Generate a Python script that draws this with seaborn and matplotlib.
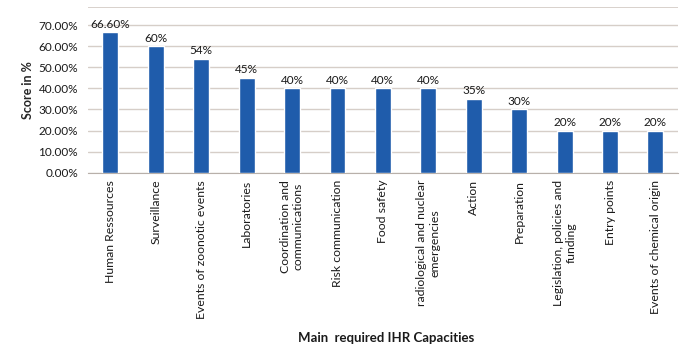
import pandas as pd
import numpy as np
import seaborn as sns
import matplotlib.pyplot as plt
from matplotlib.ticker import PercentFormatter

# data
capacities = ["Human Ressources", "Surveillance", "Events of zoonotic events",
              "Laboratories", "Coordination and\ncommunications", "Risk communication",
              "Food safety", "radiological and nuclear\nemergencies", "Action",
              "Preparation", "Legislation, policies and\nfunding", "Entry points",
              "Events of chemical origin"]
scores = [0.666, 0.60, 0.54, 0.45, 0.40, 0.40, 0.40, 0.40, 0.35, 0.30, 0.20, 0.20, 0.20]
bar_labels = ["66.60%", "60%", "54%", "45%", "40%", "40%", "40%", "40%",
              "35%", "30%", "20%", "20%", "20%"]

df = pd.DataFrame({"capacity": capacities, "score": scores})

sns.set_style("white")
plt.rcParams['font.family'] = ['Lato', 'DejaVu Sans']

fig = plt.figure(figsize=(6.85, 3.47), dpi=100)
ax = fig.add_axes([0.128, 0.502, 0.862, 0.478])

sns.barplot(data=df, x="capacity", y="score", color="#1f5cab", width=0.35,
            saturation=1, ax=ax, zorder=3)

ax.set_xlim(-0.5, len(capacities) - 0.5)
ax.set_ylim(0, 0.786)
ax.set_yticks(np.arange(0, 0.71, 0.1))
ax.yaxis.set_major_formatter(PercentFormatter(1.0, decimals=2))
ax.grid(axis="y", color="#d6cec8", linewidth=1.0, zorder=0)
ax.axhline(0.786, color="#d6cec8", linewidth=1.3, zorder=0)

for s in ["left", "right", "top"]:
    ax.spines[s].set_visible(False)
ax.spines["bottom"].set_color("#b8b0aa")

for i, lab in enumerate(bar_labels):
    ax.text(i, scores[i] + 0.012, lab, ha="center", va="bottom", fontsize=8.5,
            color="#1a1a1a")

ax.set_xticks(range(len(capacities)))
ax.set_xticklabels(capacities, rotation=90, ha="center", va="top",
                   multialignment="center", fontsize=8.8, color="#1a1a1a")
ax.tick_params(axis="y", labelsize=8.5, colors="#1a1a1a", length=0, pad=7)
ax.tick_params(axis="x", length=0, pad=5)

ax.set_ylabel("Score in %", fontsize=9, fontweight="bold", labelpad=3)
ax.set_xlabel("")
fig.text(0.563, 0.027, "Main  required IHR Capacities", ha="center", va="center",
         fontsize=9.5, fontweight="bold", color="#1a1a1a")

fig.savefig("out.png", dpi=100)
